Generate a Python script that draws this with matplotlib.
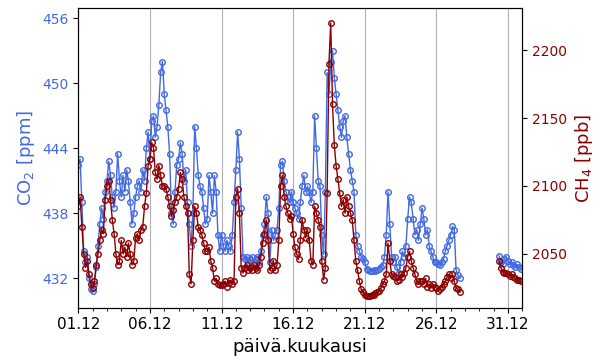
import numpy as np
import pandas as pd
import matplotlib
matplotlib.use("Agg")
import matplotlib.pyplot as plt
import matplotlib.dates as mdates
from matplotlib.ticker import FixedLocator

# 3-hourly values, 1.12. 00:00 -> 27.12. 15:00
co2_a = [
    442.5, 443.0, 439.0, 434.5, 433.5, 434.0, 432.0, 431.0,   # 1.12
    430.8, 431.5, 433.0, 435.0, 437.0, 438.5, 437.5, 440.0,   # 2.12
    441.0, 442.8, 441.5, 439.5, 438.5, 440.0, 443.5, 441.0,   # 3.12
    439.5, 441.5, 440.0, 442.0, 441.0, 439.0, 437.0, 438.0,   # 4.12
    439.5, 440.5, 441.0, 440.0, 442.0, 441.0, 444.0, 445.5,   # 5.12
    443.0, 446.5, 447.0, 445.0, 446.0, 448.0, 451.0, 452.0,   # 6.12
    449.0, 447.5, 446.0, 443.5, 438.0, 437.0, 440.0, 442.5,   # 7.12
    443.0, 444.5, 443.5, 441.0, 442.0, 439.0, 437.0, 435.0,   # 8.12
    438.0, 446.0, 444.0, 441.5, 440.5, 440.0, 438.5, 437.0,   # 9.12
    437.5, 441.5, 440.0, 438.0, 441.5, 440.0, 436.0, 434.5,   # 10.12
    436.0, 435.0, 434.5, 435.5, 435.0, 434.5, 436.0, 439.0,   # 11.12
    442.0, 445.5, 443.0, 438.5, 434.0, 433.8, 434.0, 433.5,   # 12.12
    433.8, 434.0, 433.5, 433.8, 434.0, 433.5, 434.5, 436.0,   # 13.12
    437.0, 439.5, 438.0, 433.5, 436.5, 435.5, 436.0, 436.5,   # 14.12
    438.5, 442.5, 442.8, 441.0, 440.0, 439.5, 439.0, 440.0,   # 15.12
    439.0, 438.5, 438.0, 437.5, 439.0, 440.5, 441.5, 440.0,   # 16.12
    440.5, 440.0, 439.0, 440.0, 447.0, 444.0, 441.0, 440.5,   # 17.12
    436.0, 434.2, 440.0, 451.0, 449.0, 452.0, 453.0, 450.5,   # 18.12
    449.0, 447.5, 446.0, 445.0, 446.5, 447.0, 445.0, 443.5,   # 19.12
    442.0, 441.0, 440.0, 436.0, 435.0, 434.5, 434.0, 433.8,   # 20.12
    433.5, 432.9, 432.8, 432.7, 432.7, 432.8, 432.7, 432.8,   # 21.12
    432.9, 433.0, 433.2, 434.0, 436.0, 440.0, 437.0, 434.0,   # 22.12
    433.5, 434.0, 433.0, 432.5, 433.5, 434.5, 434.0, 435.0,   # 23.12
    437.5, 439.5, 439.0, 437.5, 436.0, 436.5, 435.5, 437.0,   # 24.12
    438.5, 437.5, 436.0, 436.5, 435.0, 434.5, 434.0, 433.5,   # 25.12
    433.5, 433.3, 433.2, 433.5, 433.8, 434.5, 435.0, 435.5,   # 26.12
    436.0, 436.8, 436.5, 432.8, 432.3, 432.0,                 # 27.12
]
ch4_a = [
    2085, 2092, 2070, 2050, 2040, 2045, 2035, 2028,
    2025, 2030, 2042, 2050, 2060, 2068, 2065, 2090,
    2100, 2104, 2090, 2075, 2065, 2050, 2042, 2045,
    2060, 2050, 2055, 2048, 2058, 2050, 2042, 2045,
    2062, 2065, 2060, 2068, 2070, 2085, 2095, 2115,
    2120, 2132, 2128, 2110, 2105, 2115, 2108, 2100,
    2100, 2098, 2092, 2085, 2078, 2082, 2088, 2092,
    2098, 2110, 2105, 2092, 2085, 2080, 2035, 2028,
    2060, 2085, 2080, 2070, 2068, 2064, 2058, 2052,
    2052, 2055, 2045, 2040, 2030, 2032, 2028, 2027,
    2027, 2028, 2030, 2026, 2029, 2031, 2028, 2030,
    2092, 2098, 2080, 2040, 2036, 2040, 2042, 2038,
    2040, 2038, 2042, 2040, 2038, 2042, 2048, 2058,
    2065, 2075, 2060, 2038, 2040, 2045, 2038, 2042,
    2060, 2100, 2108, 2092, 2085, 2080, 2076, 2078,
    2065, 2055, 2050, 2046, 2060, 2075, 2068, 2062,
    2068, 2060, 2045, 2042, 2085, 2080, 2075, 2070,
    2045, 2031, 2040, 2095, 2190, 2220, 2160, 2130,
    2115, 2105, 2095, 2085, 2090, 2080, 2092, 2085,
    2080, 2075, 2060, 2045, 2038, 2030, 2024, 2022,
    2020, 2019, 2019, 2019, 2020, 2020, 2021, 2022,
    2023, 2025, 2028, 2030, 2035, 2058, 2045, 2035,
    2034, 2033, 2030, 2031, 2035, 2033, 2036, 2040,
    2048, 2052, 2045, 2040, 2035, 2030, 2028, 2030,
    2030, 2028, 2032, 2026, 2028, 2025, 2028, 2026,
    2025, 2023, 2024, 2026, 2028, 2030, 2033, 2035,
    2032, 2035, 2030, 2025, 2024, 2022,
]
# 3-hourly values, 30.12. 09:00 -> 31.12. 21:00
co2_b = [434.1, 433.5, 433.3, 433.8, 434.0, 433.6, 433.3, 433.5, 433.2, 433.0, 433.3, 433.0, 432.9]
ch4_b = [2045, 2040, 2037, 2036, 2036, 2035, 2034, 2035, 2033, 2032, 2031, 2031, 2030]

co2_ticks = [432, 438, 444, 450, 456]
ch4_ticks = [2050, 2100, 2150, 2200]
x_tick_days = ["2022-12-01", "2022-12-06", "2022-12-11", "2022-12-16",
               "2022-12-21", "2022-12-26", "2022-12-31"]

t_a = pd.date_range("2022-12-01 00:00", periods=len(co2_a), freq="3h")
t_b = pd.date_range("2022-12-30 09:00", periods=len(co2_b), freq="3h")

blue = "royalblue"
red = "darkred"

fig = plt.figure(figsize=(6, 3.6), dpi=100)
ax = fig.add_axes([0.1305, 0.1453, 0.74, 0.8317])
ax2 = ax.twinx()

sty = dict(marker="o", markerfacecolor="none", markersize=4, linewidth=1, markeredgewidth=1)
ax.plot(t_a, co2_a, color=blue, **sty)
ax.plot(t_b, co2_b, color=blue, **sty)
ax2.plot(t_a, ch4_a, color=red, **sty)
ax2.plot(t_b, ch4_b, color=red, **sty)

ax.set_xlim(pd.Timestamp("2022-12-01"), pd.Timestamp("2023-01-01"))
ax.set_ylim(429.29, 456.92)
ax2.set_ylim(2010.5, 2230.7)
ax.set_yticks(co2_ticks)
ax2.set_yticks(ch4_ticks)

ax.xaxis.set_major_locator(FixedLocator(mdates.date2num(pd.to_datetime(x_tick_days))))
ax.xaxis.set_minor_locator(mdates.DayLocator())
ax.xaxis.set_major_formatter(mdates.DateFormatter("%d.%m"))
ax.grid(axis="x", color="#b0b0b0", linewidth=0.8)
ax.set_axisbelow(True)

ax.tick_params(axis="x", labelsize=11)
ax.tick_params(axis="y", labelsize=10, labelcolor=blue)
ax2.tick_params(axis="y", labelsize=10, labelcolor=red)

ax.set_xlabel("päivä.kuukausi", fontsize=13)
ax.set_ylabel("CO$_2$ [ppm]", color=blue, fontsize=13)
ax2.set_ylabel("CH$_4$ [ppb]", color=red, fontsize=13)

fig.savefig("out.png", dpi=100)
